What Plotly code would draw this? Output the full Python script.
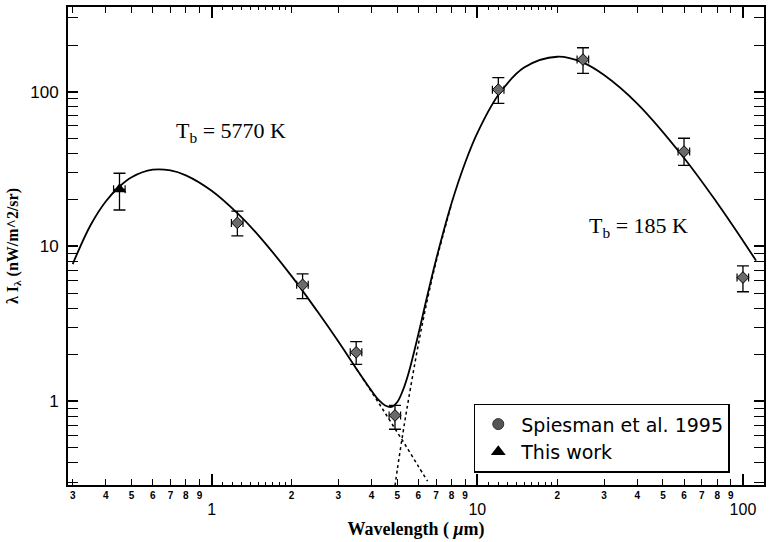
import math
import plotly.graph_objects as go

# ---------------- data ----------------
sp_wl = [1.25, 2.2, 3.5, 4.9, 12, 25, 60, 100]
sp_val = [14.2, 5.65, 2.07, 0.81, 103, 161, 41, 6.3]
sp_hi = [16.9, 6.65, 2.43, 0.94, 123, 192, 50, 7.5]
sp_lo = [11.7, 4.6, 1.73, 0.66, 84, 131, 33.4, 5.1]

tw_wl = [0.45]
tw_val = [23.4]
tw_hi = [29.7]
tw_lo = [17.2]

fit_wl = [0.3, 0.35, 0.4, 0.45, 0.5, 0.6, 0.7, 0.8, 1.0, 1.25, 1.5, 2.0, 2.5, 3.0,
          3.5, 4.0, 4.25, 4.5, 4.75, 5.0, 5.25, 5.5, 6.0, 6.5, 7.0, 8.0, 9.0, 10, 12,
          15, 20, 25, 30, 40, 60, 80, 100, 112]
fit_val = [7.7, 13.7, 19.6, 24.4, 28.0, 31.3, 31.0, 28.8, 22.9, 16.4, 11.8, 6.43, 3.81, 2.43,
           1.63, 1.17, 1.02, 0.94, 0.92, 0.99, 1.18, 1.50, 2.71, 4.9, 8.25, 19.0, 34.7, 53.9, 95,
           143, 168, 154, 128, 83.7, 37.3, 19.1, 10.9, 8.1]

star_wl = [3.5, 4.0, 4.5, 5.0, 5.5, 6.0, 6.5]
star_val = [1.63, 1.15, 0.839, 0.63, 0.486, 0.38, 0.305]

dust_wl = [4.9, 5.0, 5.25, 5.5, 6.0, 6.5, 7.0, 8.0]
dust_val = [0.285, 0.363, 0.625, 1.01, 2.33, 4.6, 8.0, 18.8]

x_minor_labelled = [0.3, 0.4, 0.5, 0.6, 0.7, 0.8, 0.9,
                    2, 3, 4, 5, 6, 7, 8, 9,
                    20, 30, 40, 50, 60, 70, 80, 90]
x_minor_text = ["3", "4", "5", "6", "7", "8", "9",
                "2", "3", "4", "5", "6", "7", "8", "9",
                "2", "3", "4", "5", "6", "7", "8", "9"]
x_small = [1.1, 1.2, 1.3, 1.4, 1.5, 1.6, 1.7, 1.8, 1.9,
           11, 12, 13, 14, 15, 16, 17, 18, 19]
x_major = [1, 10, 100]
x_major_text = ["1", "10", "100"]

y_major = [1, 10, 100]
y_major_text = ["1", "10", "100"]
y_minor = [0.3, 0.4, 0.5, 0.6, 0.7, 0.8, 0.9,
           2, 3, 4, 5, 6, 7, 8, 9,
           20, 30, 40, 50, 60, 70, 80, 90, 200, 300]

label_star = "T<sub>b</sub> = 5770 K"
label_dust = "T<sub>b</sub> = 185 K"

xr = [math.log10(0.288), math.log10(120)]
yr = [math.log10(0.288), math.log10(352)]

fig = go.Figure()

# dotted component curves
fig.add_trace(go.Scatter(x=star_wl, y=star_val, mode="lines",
                         line=dict(color="black", width=1.5, dash="dot", shape="spline"),
                         showlegend=False, hoverinfo="skip"))
fig.add_trace(go.Scatter(x=dust_wl, y=dust_val, mode="lines",
                         line=dict(color="black", width=1.5, dash="dot", shape="spline"),
                         showlegend=False, hoverinfo="skip"))
# total fit
fig.add_trace(go.Scatter(x=fit_wl, y=fit_val, mode="lines",
                         line=dict(color="black", width=1.8, shape="spline"),
                         showlegend=False, hoverinfo="skip"))

# Spiesman points
fig.add_trace(go.Scatter(
    x=sp_wl, y=sp_val, mode="markers",
    marker=dict(symbol="diamond", size=9, color="#6a6a6a", line=dict(color="black", width=1)),
    error_y=dict(type="data", symmetric=False,
                 array=[h - v for h, v in zip(sp_hi, sp_val)],
                 arrayminus=[v - l for v, l in zip(sp_val, sp_lo)],
                 color="black", thickness=1.3, width=6),
    error_x=dict(type="percent", value=5, color="black", thickness=1.2, width=4),
    showlegend=False))
# This work
fig.add_trace(go.Scatter(
    x=tw_wl, y=tw_val, mode="markers",
    marker=dict(symbol="triangle-up", size=12, color="black"),
    error_y=dict(type="data", symmetric=False,
                 array=[h - v for h, v in zip(tw_hi, tw_val)],
                 arrayminus=[v - l for v, l in zip(tw_val, tw_lo)],
                 color="black", thickness=1.3, width=6),
    error_x=dict(type="percent", value=5, color="black", thickness=1.2, width=4),
    showlegend=False))

# legend entries
fig.add_trace(go.Scatter(x=[None], y=[None], mode="markers", name="Spiesman et al. 1995",
                         marker=dict(symbol="circle", size=11, color="#555555",
                                     line=dict(color="#333", width=1))))
fig.add_trace(go.Scatter(x=[None], y=[None], mode="markers", name="This work",
                         marker=dict(symbol="triangle-up", size=13, color="black")))

# overlay axis for long major ticks and big labels
fig.add_trace(go.Scatter(x=[None], y=[None], xaxis="x2", showlegend=False))

axis_font = dict(family="Liberation Sans, Arial, sans-serif", size=16, color="black")
serif = "Liberation Serif, Times New Roman, serif"

fig.update_layout(
    width=771, height=542,
    margin=dict(l=68, r=5, t=5, b=57),
    paper_bgcolor="white", plot_bgcolor="white",
    xaxis=dict(type="log", range=xr, showgrid=False, zeroline=False,
               showline=True, linecolor="black", linewidth=2, mirror="allticks",
               ticks="inside", ticklen=6, tickwidth=1.3, tickcolor="black",
               tickvals=x_minor_labelled, ticktext=["<b>" + t + "</b>" for t in x_minor_text],
               tickfont=dict(family="Liberation Sans, Arial, sans-serif", size=10, color="black"),
               minor=dict(tickvals=x_small, ticks="inside", ticklen=3, tickwidth=1, tickcolor="black"),
               title=dict(text="<b>Wavelength ( <i>μ</i>m)</b>",
                          font=dict(family=serif, size=18, color="black"),
                          standoff=22)),
    xaxis2=dict(type="log", range=xr, overlaying="x", anchor="y", side="bottom",
                showgrid=False, zeroline=False, showline=False, mirror="ticks",
                ticks="inside", ticklen=11, tickwidth=1.5, tickcolor="black",
                tickvals=x_major, ticktext=x_major_text, ticklabelstandoff=13,
                tickfont=axis_font),
    yaxis=dict(type="log", range=yr, showgrid=False, zeroline=False,
               showline=True, linecolor="black", linewidth=2, mirror="allticks",
               ticks="inside", ticklen=10, tickwidth=1.5, tickcolor="black",
               tickvals=y_major, ticktext=y_major_text,
               tickfont=dict(family="Liberation Sans, Arial, sans-serif", size=17, color="black"),
               ticklabelstandoff=4,
               minor=dict(tickvals=y_minor, ticks="inside", ticklen=6, tickwidth=1.2, tickcolor="black"),
               title=dict(text="<b>λ I<sub>λ</sub> (nW/m^2/sr)</b>",
                          font=dict(family=serif, size=16, color="black"),
                          standoff=8)),
    legend=dict(x=0.583, y=0.17, xanchor="left", yanchor="top",
                bgcolor="white", bordercolor="black", borderwidth=1.5,
                font=dict(family="DejaVu Sans, Verdana, sans-serif", size=19, color="black"),
                itemsizing="trace", itemwidth=36, tracegroupgap=0),
    annotations=[
        dict(x=math.log10(1.18), y=math.log10(54.5), xref="x", yref="y", showarrow=False,
             text=label_star, font=dict(family=serif, size=22, color="black")),
        dict(x=math.log10(40.4), y=math.log10(13.3), xref="x", yref="y", showarrow=False,
             text=label_dust, font=dict(family=serif, size=22, color="black")),
    ],
)

fig.write_html("out.html")
